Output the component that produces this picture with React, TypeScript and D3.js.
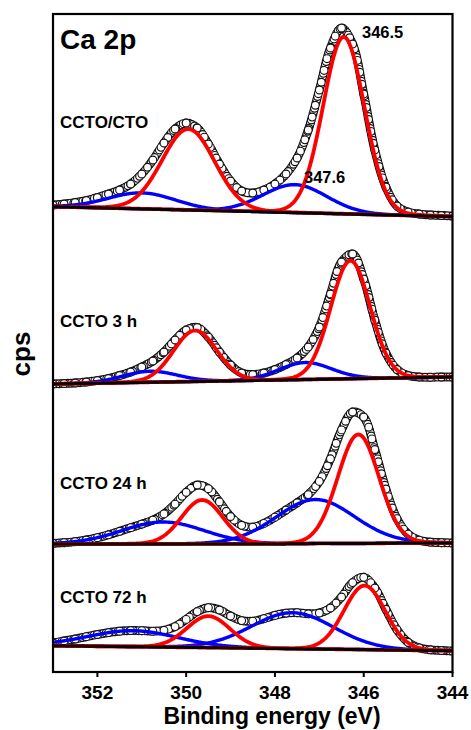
import React from "react";
import * as d3 from "d3";

// ---------- data ----------
const sampleLabels = ["CCTO/CTO", "CCTO 3 h", "CCTO 24 h", "CCTO 72 h"];
const stackOffsets = [452, 282, 122, 16];
const dataEnergy = d3.range(0, 37).map((i) => 353 - i * 0.25);

const countsCTO = [15, 16, 17.5, 19.5, 22.5, 26, 30, 36, 46, 60, 77, 91, 97, 92, 76, 56, 39, 29, 27, 30, 36, 46, 62, 90, 130, 172, 192, 176, 126, 70, 33, 14, 8, 6, 5, 4.5, 4];
const counts3h = [6, 6.5, 7, 8, 9.5, 11.5, 14.5, 18, 23, 29, 38, 50, 60, 62.5, 53, 38, 25, 17, 15.5, 17, 20.5, 25.5, 32, 43, 63, 96, 128, 136, 111, 70, 37, 20.5, 14.5, 13, 12.8, 13, 13];
const counts24h = [6.7, 7.3, 8.3, 10, 12.3, 15.2, 18.7, 22.3, 25.9, 29.9, 36.1, 45.9, 57.7, 65, 61.3, 48.1, 33.5, 24.7, 22.9, 26.6, 32.8, 40, 47.2, 55.4, 68.6, 91.2, 120.1, 138, 132.9, 100.5, 61, 31.3, 15.9, 9.8, 7.9, 7.3, 7.1];
const counts72h = [13, 15, 17, 19.3, 21.5, 23.4, 24.8, 25.4, 25.3, 24.8, 25.7, 29.4, 36.6, 44.4, 48.3, 46, 40, 35.4, 34.8, 37.3, 40.6, 42.9, 43.3, 42.2, 43, 48, 59, 73.4, 78.7, 68, 46.7, 26.3, 13.7, 8.1, 6.2, 5.5, 5];
const allCounts = [countsCTO, counts3h, counts24h, counts72h];

const backgroundEnergy = [353, 352, 351, 350, 349, 348, 347, 346, 345, 344];
const backgroundCTO = [13.3, 12.2, 11.1, 10.0, 8.9, 7.8, 6.7, 5.6, 4.5, 3.4];
const background3h = [6, 6.8, 7.6, 8.3, 9.1, 9.9, 10.7, 11.5, 12.2, 13];
const background24h = [6, 6, 6, 6, 6, 6, 6.5, 6.5, 7, 7];
const background72h = [10.3, 9.7, 9.2, 8.6, 8.1, 7.5, 6.9, 6.4, 5.8, 5.3];
const allBackgrounds = [backgroundCTO, background3h, background24h, background72h];

// fitted components: [position (eV), FWHM (eV), height]
const redP32 = [[346.45, 1.1, 177], [346.3, 1.05, 118], [346.12, 1.1, 109], [345.98, 1.1, 64]];
const redP12 = [[349.95, 1.4, 81], [349.8, 1.15, 51], [349.64, 1.1, 44], [349.5, 1.15, 31.5]];
const blueP32 = [[347.55, 1.7, 28], [347.32, 1.4, 17], [347.09, 2.1, 44], [347.6, 2.2, 36]];
const blueP12 = [[351.0, 1.8, 16], [350.81, 1.45, 11], [350.52, 2.2, 22], [351.2, 2.4, 16]];

const tickValues = [352, 350, 348, 346, 344];

// ---------- layout ----------
const W = 471;
const H = 730;
const FONT = "'Liberation Sans', Arial, Helvetica, sans-serif";

const x = d3.scaleLinear().domain([353, 344]).range([53, 452.5]);
const y = d3.scaleLinear().domain([0, 658]).range([672, 14]);

const fitGrid = d3.range(344, 353.0001, 0.02);

function peak(e: number, p: number[]) {
  const t = (e - p[0]) / p[1];
  return p[2] * (0.96 * Math.exp(-4 * Math.LN2 * t * t) + 0.04 / (1 + 4 * t * t));
}

const PERIOD = 12;
const PASSES = 4;

export default function App() {
  const lineGen = d3
    .line<[number, number]>()
    .x((d) => x(d[0]))
    .y((d) => y(d[1]));
  const dataLine = d3
    .line<[number, number]>()
    .x((d) => x(d[0]))
    .y((d) => y(d[1]))
    .curve(d3.curveCatmullRom);

  const panels = sampleLabels.map((label, i) => {
    const off = stackOffsets[i];
    const bg = d3.scaleLinear().domain(backgroundEnergy).range(allBackgrounds[i]);
    const pts: [number, number][] = dataEnergy.map((e, j) => [e, allCounts[i][j] + off]);
    const bgPath = lineGen(fitGrid.map((e) => [e, bg(e) + off]));
    const comp = (p: number[]) => lineGen(fitGrid.map((e) => [e, bg(e) + peak(e, p) + off]));
    return {
      label,
      pts,
      dataPath: dataLine(pts) || "",
      bgPath: bgPath || "",
      red: [comp(redP32[i]) || "", comp(redP12[i]) || ""],
      blue: [comp(blueP32[i]) || "", comp(blueP12[i]) || ""],
    };
  });

  const labelY = [128, 327, 489, 603];
  const passes = d3.range(PASSES);

  return (
    <svg
      width={W}
      height={H}
      style={{ position: "absolute", left: 0, top: 0, background: "#fff" }}
      fontFamily={FONT}
    >
      <defs>
        <clipPath id="plotClip">
          <rect x={53} y={14} width={399.5} height={658} />
        </clipPath>
      </defs>
      <rect x={0} y={0} width={W} height={H} fill="#fff" />
      <g clipPath="url(#plotClip)">
        {panels.map((p, i) => (
          <g key={"d" + i}>
            {passes.map((k) => (
              <g key={k}>
                <path d={p.dataPath} fill="none" stroke="#111" strokeWidth={9} strokeDasharray={`0 ${PERIOD}`} strokeDashoffset={-k * (PERIOD / PASSES)} strokeLinecap="round" />
                <path d={p.dataPath} fill="none" stroke="#fff" strokeWidth={6.6} strokeDasharray={`0 ${PERIOD}`} strokeDashoffset={-k * (PERIOD / PASSES)} strokeLinecap="round" />
              </g>
            ))}
            {p.pts.map((d, j) => (
              <circle key={j} cx={x(d[0])} cy={y(d[1])} r={3.9} fill="#fff" stroke="#111" strokeWidth={1.1} />
            ))}
          </g>
        ))}
        {panels.map((p, i) => (
          <g key={"f" + i}>
            {p.blue.map((d, k) => (
              <path key={k} d={d} fill="none" stroke="#0000ff" strokeWidth={3.4} />
            ))}
            {p.red.map((d, k) => (
              <path key={k} d={d} fill="none" stroke="#ff0000" strokeWidth={3.8} />
            ))}
            <path d={p.bgPath} fill="none" stroke="#000" strokeWidth={3} />
          </g>
        ))}
      </g>
      <rect x={53} y={14} width={399.5} height={658} fill="none" stroke="#000" strokeWidth={2.2} />
      {tickValues.map((t) => (
        <g key={t}>
          <line x1={x(t)} x2={x(t)} y1={672} y2={677} stroke="#000" strokeWidth={2} />
          <text x={x(t)} y={699} textAnchor="middle" fontSize={19} fontWeight="bold">
            {t}
          </text>
        </g>
      ))}
      <text x={272} y={724} textAnchor="middle" fontSize={23} fontWeight="bold">
        Binding energy (eV)
      </text>
      <text transform="translate(30,354) rotate(-90)" textAnchor="middle" fontSize={26} fontWeight="bold">
        cps
      </text>
      <text x={60} y={49} fontSize={28} fontWeight="bold">
        Ca 2p
      </text>
      {panels.map((p, i) => (
        <text key={"l" + i} x={60} y={labelY[i]} fontSize={17} fontWeight="bold">
          {p.label}
        </text>
      ))}
      <text x={362} y={38} fontSize={16.5} fontWeight="bold">346.5</text>
      <text x={304} y={183} fontSize={16.5} fontWeight="bold">347.6</text>
    </svg>
  );
}
